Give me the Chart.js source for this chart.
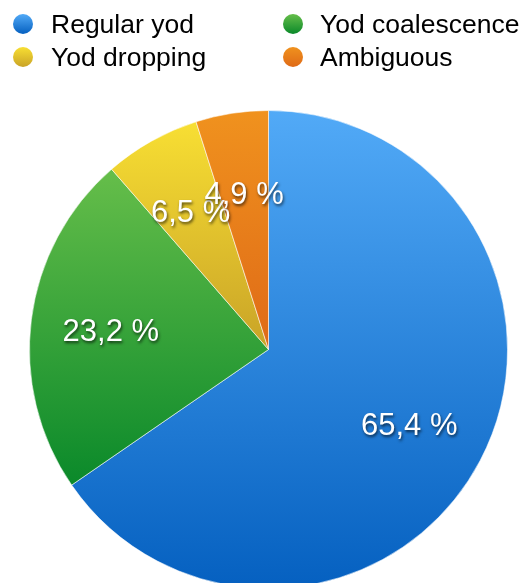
<!DOCTYPE html>
<html>
<head>
<meta charset="utf-8">
<script src="https://cdn.jsdelivr.net/npm/chart.js@4.4.1/dist/chart.umd.min.js"></script>
<style>
    html, body { margin: 0; padding: 0; background: #fff; overflow: hidden; }
</style>
</head>
<body>
<canvas id="pieChart" width="523" height="590"></canvas>
<script>
const labels = ['Regular yod', 'Yod coalescence', 'Yod dropping', 'Ambiguous'];
const shares = [65.4, 23.2, 6.5, 4.9];
const topColors = ['#52aaf7', '#66be4a', '#f8df33', '#f0921e'];
const bottomColors = ['#0560c0', '#0a892a', '#c9a327', '#df6a17'];

const FONT = 'Helvetica, Arial, "Liberation Sans", sans-serif';

// vertical gradient spanning the bounding box of one slice
function sliceGradient(context) {
    const chart = context.chart;
    const area = chart.chartArea;
    const i = context.dataIndex;
    if (!area || i === undefined) return topColors[i] || '#888';

    const cx = (area.left + area.right) / 2;
    const cy = (area.top + area.bottom) / 2;
    const r = Math.min(area.width, area.height) / 2;
    const total = shares.reduce((a, b) => a + b, 0);
    const before = shares.slice(0, i).reduce((a, b) => a + b, 0);
    const a0 = -Math.PI / 2 + 2 * Math.PI * before / total;
    const a1 = a0 + 2 * Math.PI * shares[i] / total;

    const ys = [cy, cy + r * Math.sin(a0), cy + r * Math.sin(a1)];
    [-Math.PI / 2, Math.PI / 2, 3 * Math.PI / 2].forEach(a => {
        if (a >= a0 && a <= a1) ys.push(cy + r * Math.sin(a));
    });

    const g = chart.ctx.createLinearGradient(0, Math.min(...ys), 0, Math.max(...ys));
    g.addColorStop(0, topColors[i]);
    g.addColorStop(1, bottomColors[i]);
    return g;
}

const twoColumnLegend = {
    id: 'twoColumnLegend',
    afterDraw(chart) {
        const c = chart.ctx;
        c.save();
        c.font = '26.5px ' + FONT;
        c.textBaseline = 'alphabetic';
        c.textAlign = 'left';
        labels.forEach((label, i) => {
            const col = i % 2;
            const row = Math.floor(i / 2);
            const dotX = col ? 293 : 23;
            const dotY = row ? 57 : 24;
            const g = c.createLinearGradient(0, dotY - 10, 0, dotY + 10);
            g.addColorStop(0, topColors[i]);
            g.addColorStop(1, bottomColors[i]);
            c.fillStyle = g;
            c.beginPath();
            c.arc(dotX, dotY, 10, 0, Math.PI * 2);
            c.fill();

            c.fillStyle = '#000';
            c.fillText(label, col ? 320 : 51, row ? 66 : 33);
        });
        c.restore();
    }
};

const sliceLabels = {
    id: 'sliceLabels',
    afterDatasetsDraw(chart) {
        const c = chart.ctx;
        const meta = chart.getDatasetMeta(0);
        c.save();
        c.font = '31px ' + FONT;
        c.textAlign = 'center';
        c.textBaseline = 'middle';
        c.fillStyle = '#fff';
        c.shadowColor = 'rgba(0, 0, 0, 0.65)';
        c.shadowOffsetX = 1;
        c.shadowOffsetY = 2;
        c.shadowBlur = 3;
        meta.data.forEach((arc, i) => {
            const p = arc.getProps(['x', 'y', 'startAngle', 'endAngle', 'outerRadius'], true);
            const mid = (p.startAngle + p.endAngle) / 2;
            const r = p.outerRadius * 0.665;
            const text = shares[i].toFixed(1).replace('.', ',') + ' %';
            c.fillText(text, p.x + r * Math.cos(mid), p.y + r * Math.sin(mid) + 3);
        });
        c.restore();
    }
};

new Chart(document.getElementById('pieChart').getContext('2d'), {
    type: 'pie',
    data: {
        labels: labels,
        datasets: [{
            data: shares,
            backgroundColor: sliceGradient,
            borderColor: 'rgba(255, 255, 255, 0.55)',
            borderWidth: 1
        }]
    },
    options: {
        responsive: false,
        animation: false,
        layout: {
            padding: { top: 109, left: 29, right: 15, bottom: 0 }
        },
        plugins: {
            legend: { display: false },
            tooltip: { enabled: false }
        }
    },
    plugins: [twoColumnLegend, sliceLabels]
});
</script>
</body>
</html>
